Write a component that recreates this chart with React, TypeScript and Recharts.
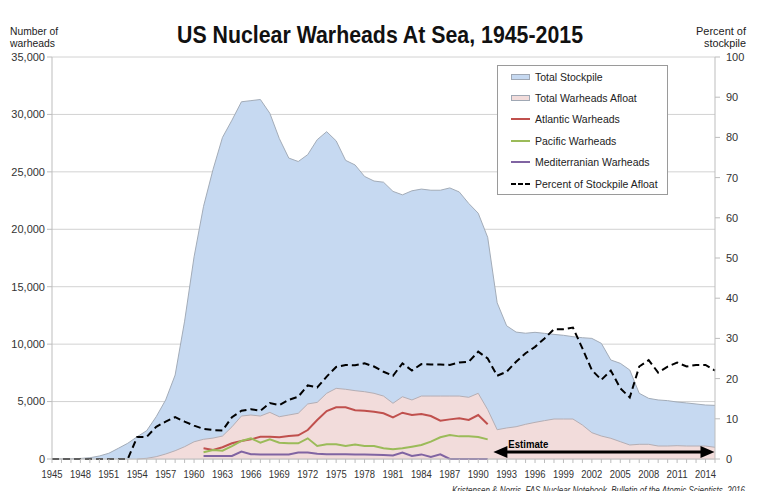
import React from "react";
import {
  ComposedChart,
  Area,
  Line,
  XAxis,
  YAxis,
  CartesianGrid,
  Legend,
  ReferenceLine,
} from "recharts";

const FIRST_YEAR = 1945;
const YEARS: number[] = Array.from({ length: 71 }, (_, i) => FIRST_YEAR + i);
const LEFT_TICKS = [0, 5000, 10000, 15000, 20000, 25000, 30000, 35000];
const RIGHT_TICKS = [0, 10, 20, 30, 40, 50, 60, 70, 80, 90, 100];

// total stockpile, 1945-2015
const STOCKPILE = [
  2, 9, 13, 50, 110, 260, 500, 930, 1370, 1940,
  2470, 3680, 5140, 7310, 12000, 17600, 22000, 25200, 28000, 29500,
  31100, 31200, 31300, 30100, 27900, 26200, 25900, 26500, 27800, 28500,
  27700, 26000, 25600, 24600, 24200, 24100, 23300, 23000, 23350, 23500,
  23400, 23400, 23600, 23250, 22250, 21400, 19300, 13600, 11600, 11050,
  10950, 11030, 10940, 10850, 10770, 10650, 10560, 10500, 10070, 8620,
  8330, 7750, 5720, 5280, 5140, 5080, 4960, 4880, 4790, 4700,
  4670,
];

// total warheads afloat, 1954-2015
const AFLOAT_START = 1954;
const AFLOAT = [
  0, 60, 200, 435, 720, 1070, 1500, 1715, 1820, 2000,
  2800, 3740, 3830, 3740, 4060, 3680, 3830, 3980, 4790, 4930,
  5720, 6150, 6070, 5950, 5860, 5720, 5480, 4850, 5420, 5140,
  5480, 5480, 5480, 5480, 5480, 5370, 5720, 4300, 2550, 2700,
  2810, 3020, 3190, 3340, 3480, 3480, 3480, 2960, 2290, 2000,
  1800, 1510, 1220, 1280, 1280, 1130, 1130, 1160, 1130, 1130,
  1130, 1020,
];

// fleets, 1961-1991
const FLEET_START = 1961;
const ATLANTIC = [
  930, 780, 1020, 1370, 1570, 1710, 1940, 1940, 1890, 2000,
  2060, 2520, 3400, 4180, 4500, 4500, 4240, 4210, 4120, 3980,
  3630, 4030, 3830, 3920, 3740, 3340, 3450, 3540, 3400, 3830,
  3020,
];
const PACIFIC = [
  580, 780, 720, 1130, 1570, 1800, 1420, 1710, 1420, 1370,
  1370, 1800, 1130, 1280, 1280, 1130, 1260, 1130, 1130, 930,
  840, 930, 1070, 1220, 1510, 1890, 2090, 1970, 1970, 1920,
  1710,
];
const MEDITERRANEAN = [
  260, 260, 260, 260, 640, 420, 400, 400, 400, 400,
  560, 560, 450, 420, 420, 420, 400, 400, 380, 350,
  300, 560, 260, 400, 170, 400, 0, 0, 0, 0,
  0,
];

// percent of stockpile afloat, 1945-2015
const PERCENT = [
  0, 0, 0, 0, 0, 0, 0, 0, 0, 5.5,
  5.5, 8, 9.3, 10.4, 9.3, 8.3, 7.5, 7.2, 7.1, 10.4,
  12.0, 12.4, 12.0, 13.9, 13.4, 14.7, 15.5, 18.3, 17.8, 20.5,
  22.9, 23.4, 23.3, 23.8, 23.0, 21.7, 20.7, 23.8, 22.0, 23.6,
  23.5, 23.5, 23.4, 24.0, 24.2, 26.7, 25.0, 20.7, 21.7, 24.2,
  26.3, 27.9, 30.0, 32.3, 32.3, 32.7, 27.5, 22.1, 19.7, 22.0,
  17.6, 15.3, 23.0, 24.6, 21.5, 23.0, 24.0, 23.0, 23.4, 23.4,
  22.0,
];

const pick = (arr: number[], start: number, year: number) => {
  const v = arr[year - start];
  return v === undefined || year < start ? null : v;
};

const data = YEARS.map((year, i) => ({
  year,
  stockpile: STOCKPILE[i],
  afloat: pick(AFLOAT, AFLOAT_START, year),
  atlantic: pick(ATLANTIC, FLEET_START, year),
  pacific: pick(PACIFIC, FLEET_START, year),
  mediterranean: pick(MEDITERRANEAN, FLEET_START, year),
  percent: PERCENT[i],
}));

const FONT = '"Liberation Sans", Arial, sans-serif';
const BLUE = "#c6d9f1";
const PINK = "#f2dcdb";
const AREA_EDGE = "#a3acb8";
const RED = "#c0504d";
const GREEN = "#9bbb59";
const PURPLE = "#8064a2";
const AXIS = "#bdbdbd";

const LEGEND_ITEMS = [
  { name: "Total Stockpile", kind: "box", color: BLUE },
  { name: "Total Warheads Afloat", kind: "box", color: PINK },
  { name: "Atlantic Warheads", kind: "line", color: RED },
  { name: "Pacific Warheads", kind: "line", color: GREEN },
  { name: "Mediterranian Warheads", kind: "line", color: PURPLE },
  { name: "Percent of Stockpile Afloat", kind: "dash", color: "#000" },
];

function LegendBox() {
  return (
    <div
      style={{
        width: 169,
        border: "1px solid #9a9a9a",
        background: "#fff",
        fontFamily: FONT,
        fontSize: 10.5,
        color: "#222",
        whiteSpace: "nowrap",
      }}
    >
      {LEGEND_ITEMS.map((item) => (
        <div
          key={item.name}
          style={{ height: 21.4, display: "flex", alignItems: "center", paddingLeft: 13 }}
        >
          <svg width={19} height={8} style={{ marginRight: 5, flexShrink: 0 }}>
            {item.kind === "box" && (
              <rect x={0.5} y={1.5} width={18} height={5} fill={item.color} stroke="#a0a8b4" />
            )}
            {item.kind === "line" && (
              <line x1={0} y1={4} x2={19} y2={4} stroke={item.color} strokeWidth={2} />
            )}
            {item.kind === "dash" && (
              <line x1={0} y1={4} x2={19} y2={4} stroke="#000" strokeWidth={2} strokeDasharray="5 2" />
            )}
          </svg>
          <span>{item.name}</span>
        </div>
      ))}
    </div>
  );
}

function YearTick(props: any) {
  const { x, y, payload } = props;
  if ((payload.value - FIRST_YEAR) % 3 !== 0) return <g />;
  return (
    <text
      x={x}
      y={y}
      dy={13}
      textAnchor="middle"
      fontFamily={FONT}
      fontSize={11.5}
      fill="#333"
      textLength={21}
      lengthAdjust="spacingAndGlyphs"
    >
      {payload.value}
    </text>
  );
}

function EstimateArrow(props: any) {
  const { x1, y1, x2, y2 } = props;
  const head = 14;
  const half = 6;
  return (
    <g>
      <line x1={x1 + head - 2} y1={y1} x2={x2 - head + 2} y2={y2} stroke="#000" strokeWidth={3} />
      <polygon points={`${x1},${y1} ${x1 + head},${y1 - half} ${x1 + head},${y1 + half}`} fill="#000" />
      <polygon points={`${x2},${y2} ${x2 - head},${y2 - half} ${x2 - head},${y2 + half}`} fill="#000" />
      <text
        x={x1 + 15}
        y={y1 - 4}
        fontFamily={FONT}
        fontWeight="bold"
        fontSize={11.5}
        fill="#000"
        textLength={40}
        lengthAdjust="spacingAndGlyphs"
      >
        Estimate
      </text>
    </g>
  );
}

export default function App() {
  return (
    <div
      style={{
        position: "absolute",
        left: 0,
        top: 0,
        width: 757,
        height: 491,
        background: "#fff",
        overflow: "hidden",
      }}
    >
      <ComposedChart
        width={757}
        height={491}
        data={data}
        margin={{ top: 57, right: 0, left: 0, bottom: 0 }}
      >
        <CartesianGrid yAxisId="left" vertical={false} stroke="#d2d2d2" />
        <XAxis
          dataKey="year"
          type="number"
          domain={[1945, 2015]}
          ticks={YEARS}
          interval={0}
          tick={<YearTick />}
          tickSize={4}
          stroke={AXIS}
          height={32}
        />
        <YAxis
          yAxisId="left"
          domain={[0, 35000]}
          ticks={LEFT_TICKS}
          width={52}
          tickSize={5}
          tickMargin={2}
          stroke={AXIS}
          tick={{ fontFamily: FONT, fontSize: 11, fill: "#333" }}
          tickFormatter={(v: number) => v.toLocaleString("en-US")}
        />
        <YAxis
          yAxisId="right"
          orientation="right"
          domain={[0, 100]}
          ticks={RIGHT_TICKS}
          width={42}
          tickSize={5}
          tickMargin={6}
          stroke={AXIS}
          tick={{ fontFamily: FONT, fontSize: 11, fill: "#333" }}
        />
        <Area
          yAxisId="left"
          dataKey="stockpile"
          type="linear"
          fill={BLUE}
          fillOpacity={1}
          stroke={AREA_EDGE}
          strokeWidth={1}
          isAnimationActive={false}
        />
        <Area
          yAxisId="left"
          dataKey="afloat"
          type="linear"
          fill={PINK}
          fillOpacity={1}
          stroke="#b4aeb4"
          strokeWidth={1}
          isAnimationActive={false}
        />
        <Line yAxisId="left" dataKey="atlantic" type="linear" stroke={RED} strokeWidth={2} dot={false} isAnimationActive={false} />
        <Line yAxisId="left" dataKey="pacific" type="linear" stroke={GREEN} strokeWidth={2} dot={false} isAnimationActive={false} />
        <Line yAxisId="left" dataKey="mediterranean" type="linear" stroke={PURPLE} strokeWidth={2} dot={false} isAnimationActive={false} />
        <Line
          yAxisId="right"
          dataKey="percent"
          type="linear"
          stroke="#000"
          strokeWidth={2}
          strokeDasharray="7 4"
          dot={false}
          isAnimationActive={false}
        />
        <ReferenceLine
          yAxisId="left"
          segment={[{ x: 1991.6, y: 610 }, { x: 2014.95, y: 610 }]}
          ifOverflow="visible"
          shape={<EstimateArrow />}
        />
        <Legend
          layout="vertical"
          align="center"
          verticalAlign="middle"
          wrapperStyle={{ left: 497, top: 65, width: 171 }}
          content={() => <LegendBox />}
        />
      </ComposedChart>
      <svg
        width={757}
        height={491}
        style={{ position: "absolute", left: 0, top: 0, pointerEvents: "none" }}
      >
        <text
          x={380}
          y={43}
          textAnchor="middle"
          fontFamily={FONT}
          fontWeight="bold"
          fontSize={24}
          fill="#111"
          textLength={406}
          lengthAdjust="spacingAndGlyphs"
        >
          US Nuclear Warheads At Sea, 1945-2015
        </text>
        <text x={10} y={35} fontFamily={FONT} fontSize={10.5} fill="#222" textLength={48} lengthAdjust="spacingAndGlyphs">Number of</text>
        <text x={10} y={47} fontFamily={FONT} fontSize={10.5} fill="#222" textLength={45} lengthAdjust="spacingAndGlyphs">warheads</text>
        <text x={746} y={35} textAnchor="end" fontFamily={FONT} fontSize={10.5} fill="#222" textLength={50} lengthAdjust="spacingAndGlyphs">Percent of</text>
        <text x={746} y={47} textAnchor="end" fontFamily={FONT} fontSize={10.5} fill="#222" textLength={42} lengthAdjust="spacingAndGlyphs">stockpile</text>
        <text
          x={745}
          y={494}
          textAnchor="end"
          fontFamily={FONT}
          fontStyle="italic"
          fontSize={10}
          fill="#333"
          textLength={293}
          lengthAdjust="spacingAndGlyphs"
        >
          Kristensen &amp; Norris, FAS Nuclear Notebook, Bulletin of the Atomic Scientists, 2016
        </text>
      </svg>
    </div>
  );
}
